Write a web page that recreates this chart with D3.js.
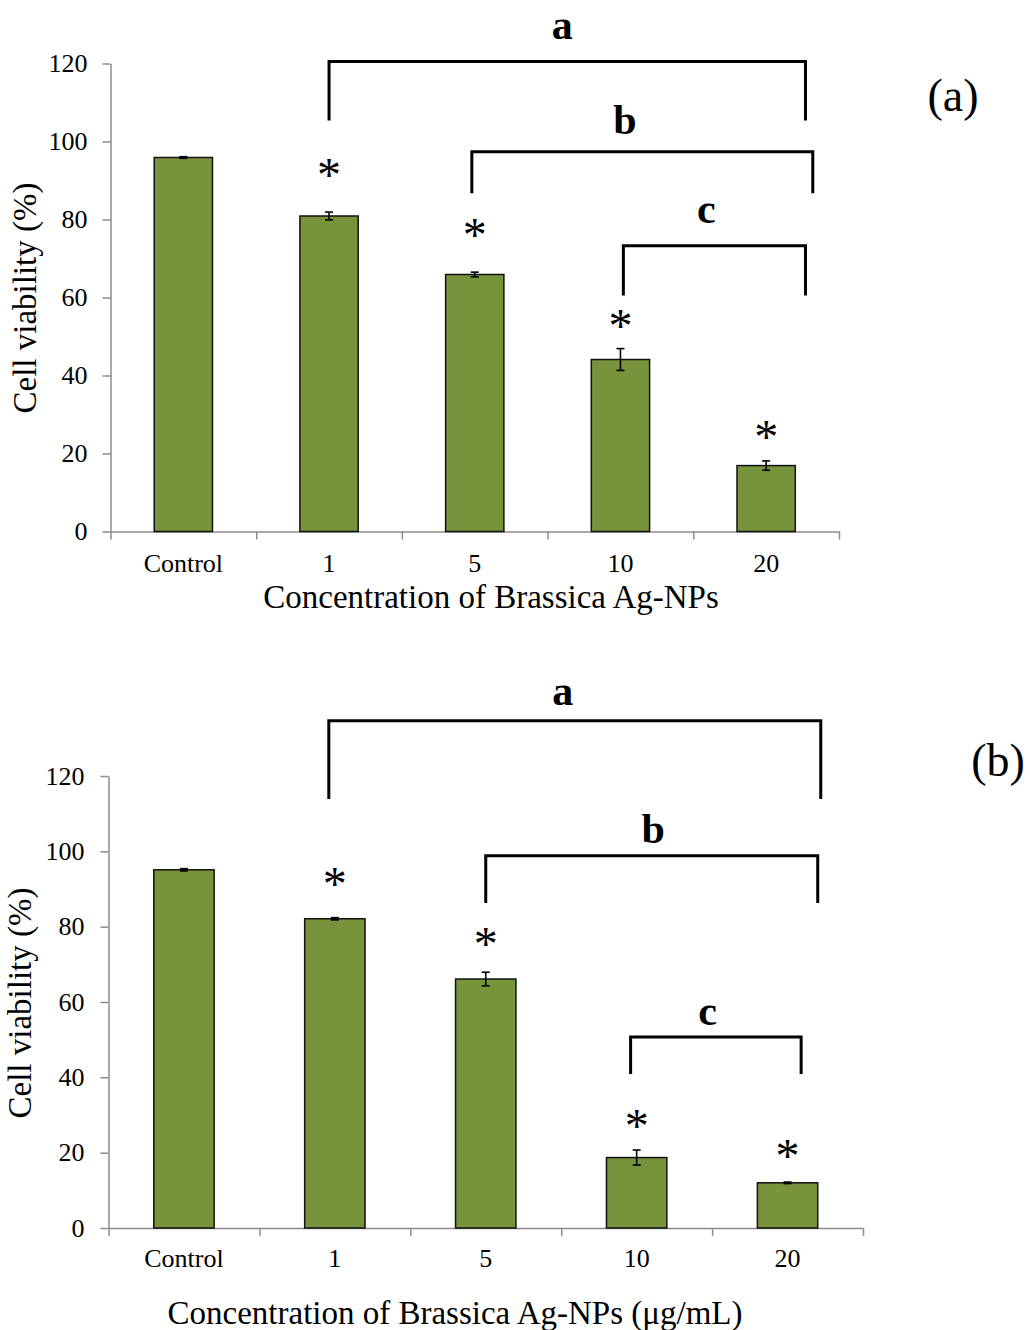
<!DOCTYPE html>
<html>
<head>
<meta charset="utf-8">
<script src="https://cdn.jsdelivr.net/npm/d3@7"></script>
<style>
  body { margin: 0; background: #fff; }
  svg { display: block; font-family: "Liberation Serif", "Times New Roman", serif; }
</style>
</head>
<body>
<div id="chart-area"></div>
<script>
// categories and tick values
const categories = ['Control', '1', '5', '10', '20'];
const yTicks = [0, 20, 40, 60, 80, 100, 120];

// panel (a)
const viabilityA = [95.9, 80.9, 65.9, 44.1, 16.9];
const errorA = [0.2, 1.0, 0.6, 2.8, 1.2];
const starsA = [null, 93.1, 77.7, 54.4, 25.9];

// panel (b)
const viabilityB = [95.1, 82.1, 66.1, 18.7, 12.0];
const errorB = [0.3, 0.3, 1.8, 2.0, 0.2];
const starsB = [null, 93.2, 77.3, 29.0, 21.0];

// significance brackets: spans in category index units, heights in % units
const bracketLabels = ['a', 'b', 'c'];
const bracketFromA = [1.0, 1.98, 3.02];
const bracketToA = [4.27, 4.32, 4.27];
const bracketTopA = [120.5, 97.4, 73.3];
const bracketLegA = [105.4, 86.7, 60.5];
const bracketTextXA = [2.6, 3.03, 3.59];
const bracketTextYA = [126.4, 102.0, 79.2];

const bracketFromB = [0.96, 2.0, 2.96];
const bracketToB = [4.22, 4.2, 4.09];
const bracketTopB = [134.7, 98.8, 50.7];
const bracketLegB = [113.9, 86.3, 40.9];
const bracketTextXB = [2.51, 3.11, 3.47];
const bracketTextYB = [138.9, 102.3, 53.9];

const svg = d3.select('#chart-area')
  .append('svg')
    .attr('width', 1030)
    .attr('height', 1330);

const panels = [
  {
    values: viabilityA, errors: errorA, stars: starsA,
    from: bracketFromA, to: bracketToA, top: bracketTopA, leg: bracketLegA,
    textX: bracketTextXA, textY: bracketTextYA,
    left: 110.5, right: 839, bottom: 531.5, topPx: 63.5,
    yPad: 15, xPad: 22,
    xTitle: 'Concentration of Brassica Ag-NPs', xTitleX: 491, xTitleY: 608,
    yTitleX: 36, yTitleY: 298,
    tag: '(a)', tagX: 953, tagY: 111
  },
  {
    values: viabilityB, errors: errorB, stars: starsB,
    from: bracketFromB, to: bracketToB, top: bracketTopB, leg: bracketLegB,
    textX: bracketTextXB, textY: bracketTextYB,
    left: 108.5, right: 863, bottom: 1228, topPx: 776,
    yPad: 16, xPad: 21,
    xTitle: 'Concentration of Brassica Ag-NPs (μg/mL)', xTitleX: 455, xTitleY: 1324,
    yTitleX: 31, yTitleY: 1003,
    tag: '(b)', tagX: 998, tagY: 776
  }
];

const drawPanel = (p) => {
  const g = svg.append('g');

  const x = d3.scaleBand()
    .domain(categories)
    .range([p.left, p.right])
    .paddingInner(0.6)
    .paddingOuter(0.3);

  // category index -> pixel, used for band edges and brackets
  const xi = d3.scaleLinear()
    .domain([-0.5, categories.length - 0.5])
    .range([p.left, p.right]);

  const y = d3.scaleLinear()
    .domain([0, 120])
    .range([p.bottom, p.topPx]);

  // y axis
  g.append('g')
    .attr('transform', 'translate(' + p.left + ',0)')
    .call(d3.axisLeft(y).tickValues(yTicks).tickSize(8).tickSizeOuter(0).tickPadding(p.yPad));

  // x axis with ticks at the band edges
  g.append('g')
    .attr('transform', 'translate(0,' + p.bottom + ')')
    .call(d3.axisBottom(xi)
      .tickValues(d3.range(-0.5, categories.length, 1))
      .tickSize(8).tickSizeOuter(0).tickFormat(''));

  // x category labels
  g.append('g')
    .attr('transform', 'translate(0,' + p.bottom + ')')
    .call(d3.axisBottom(x).tickSize(0).tickPadding(p.xPad))
    .call(s => s.select('.domain').remove());

  g.selectAll('.domain, .tick line')
    .attr('stroke', '#8c8c8c')
    .attr('stroke-width', 1.5);
  g.selectAll('.tick text')
    .attr('font-family', '"Liberation Serif", serif')
    .attr('font-size', 26)
    .attr('fill', '#000');

  const rows = categories.map((c, i) => ({ c: c, v: p.values[i], e: p.errors[i], s: p.stars[i] }));

  // bars
  g.selectAll('rect.bar')
    .data(rows)
    .enter()
    .append('rect')
      .attr('class', 'bar')
      .attr('x', d => x(d.c))
      .attr('y', d => y(d.v))
      .attr('width', x.bandwidth())
      .attr('height', d => y(0) - y(d.v))
      .attr('fill', '#77933c')
      .attr('stroke', '#111')
      .attr('stroke-width', 1.5);

  // error bars
  const cx = d => x(d.c) + x.bandwidth() / 2;
  const err = g.selectAll('g.err')
    .data(rows)
    .enter()
    .append('g')
      .attr('class', 'err')
      .attr('stroke', '#000')
      .attr('stroke-width', 1.6);
  err.append('line')
    .attr('x1', cx).attr('x2', cx)
    .attr('y1', d => y(d.v - d.e)).attr('y2', d => y(d.v + d.e));
  err.append('line')
    .attr('x1', d => cx(d) - 4).attr('x2', d => cx(d) + 4)
    .attr('y1', d => y(d.v + d.e)).attr('y2', d => y(d.v + d.e));
  err.append('line')
    .attr('x1', d => cx(d) - 4).attr('x2', d => cx(d) + 4)
    .attr('y1', d => y(d.v - d.e)).attr('y2', d => y(d.v - d.e));

  // asterisks
  g.selectAll('text.star')
    .data(rows.filter(d => d.s !== null))
    .enter()
    .append('text')
      .attr('class', 'star')
      .attr('x', cx)
      .attr('y', d => y(d.s) + 23)
      .attr('text-anchor', 'middle')
      .attr('font-size', 48)
      .text('*');

  // significance brackets
  g.selectAll('path.bracket')
    .data(bracketLabels)
    .enter()
    .append('path')
      .attr('class', 'bracket')
      .attr('d', (d, i) => 'M' + xi(p.from[i]) + ',' + y(p.leg[i]) +
        'V' + y(p.top[i]) + 'H' + xi(p.to[i]) + 'V' + y(p.leg[i]))
      .attr('fill', 'none')
      .attr('stroke', '#000')
      .attr('stroke-width', 3);

  g.selectAll('text.bracket-label')
    .data(bracketLabels)
    .enter()
    .append('text')
      .attr('class', 'bracket-label')
      .attr('x', (d, i) => xi(p.textX[i]))
      .attr('y', (d, i) => y(p.textY[i]))
      .attr('text-anchor', 'middle')
      .attr('font-size', 42)
      .attr('font-weight', 'bold')
      .text(d => d);

  // axis titles
  g.append('text')
    .attr('x', p.xTitleX)
    .attr('y', p.xTitleY)
    .attr('text-anchor', 'middle')
    .attr('font-size', 33)
    .text(p.xTitle);

  g.append('text')
    .attr('transform', 'translate(' + p.yTitleX + ',' + p.yTitleY + ') rotate(-90)')
    .attr('text-anchor', 'middle')
    .attr('font-size', 33)
    .text('Cell viability (%)');

  // panel tag
  g.append('text')
    .attr('x', p.tagX)
    .attr('y', p.tagY)
    .attr('text-anchor', 'middle')
    .attr('font-size', 46)
    .text(p.tag);
};

panels.forEach(drawPanel);
</script>
</body>
</html>
